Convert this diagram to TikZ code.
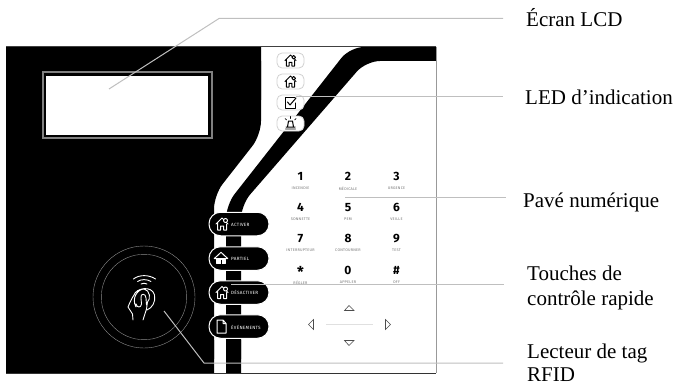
\documentclass[tikz,border=0pt]{standalone}
\usepackage{fontspec}
\setmainfont{Liberation Serif}
\newfontfamily\panelfont{Fira Sans}
\newfontfamily\smallpanelfont[LetterSpace=6]{Fira Sans}
\usetikzlibrary{calc}
\tikzset{
  leader/.style={draw=black!25,line width=1pt},
  lbl/.style={anchor=base west,inner sep=0pt,font=\fontsize{21}{24}\selectfont},
  digit/.style={font=\panelfont\bfseries\fontsize{12}{12}\selectfont,inner sep=0pt,text height=8.4pt,text depth=0pt},
  sublbl/.style={font=\smallpanelfont\fontsize{3.8}{4}\selectfont,text=black!55,inner sep=0pt},
  softkey/.style={draw=white,line width=1pt,fill=black,rounded corners=11.5pt,minimum width=60pt,minimum height=23.5pt,inner sep=0pt},
  softtxt/.style={font=\smallpanelfont\fontsize{4.6}{5}\selectfont,text=white,inner sep=0pt,anchor=west},
  ledkey/.style={draw=black!18,line width=.8pt,fill=white,rounded corners=5pt,minimum width=27pt,minimum height=15pt,inner sep=0pt},
  ico/.style={line width=1pt,line join=round,line cap=round},
  nav/.style={draw=black!70,line width=.6pt,fill=white},
  pics/house/.style={code={
    \draw[ico,#1] (-6,0) -- (0,-6) -- (1.5,-4.5)
      (-4.5,-1.5) -- (-4.5,6) -- (-1.5,6) -- (-1.5,2) -- (1.5,2) -- (1.5,6) -- (4.5,6) -- (4.5,0);
    \draw[ico,#1] (3.5,-3.5) circle (2);
    \draw[ico,#1] (6,0) -- (4.5,-1.5);
  }},
  pics/home2/.style={code={
    \draw[ico,#1,fill=#1] (-4.5,1.5) rectangle (4.5,5.5);
    \draw[ico,#1] (-7,0) -- (0,-6.5) -- (7,0) -- cycle;
    \draw[ico,black,line width=1pt] (0,2) -- (0,5.5);
  }}
}
\begin{document}
\begin{tikzpicture}[x=1pt,y=-1pt]
\useasboundingbox (0,0) rectangle (676,385);
% panel
\fill[black,rounded corners=14pt] (6,47) -- (261,47) -- (261,135) -- (214,195) -- (214,373) -- (6,373) [sharp corners] -- cycle;
\fill[black] (6,47) rectangle (30,80) (6,340) rectangle (30,373) (230,47) rectangle (261,100) (190,340) rectangle (214,373);
\fill[black,rounded corners=14pt] (436,47) -- (350,47) -- (226,205) -- (226,373) -- (241,373) -- (241,205) -- (366,61) -- (436,61);
\fill[black] (420,47) rectangle (436,61) (226,340) rectangle (241,373);
\draw[black!75,line width=1pt] (6,47) -- (436,47);
\draw[black!40,line width=1pt] (436,47) -- (436,373);
\draw[black!80,line width=1pt] (6,373) -- (436,373);
% LCD
\node[draw=black!50,line width=2pt,fill=black,minimum width=169pt,minimum height=65pt,inner sep=0pt] (lcdframe) at (127,105) {};
\node[fill=white,minimum width=162pt,minimum height=58pt,inner sep=0pt] (lcd) at (127,105.5) {};
% LED keys
\node[ledkey] (k1) at (290.5,60.5) {};
\node[ledkey] (k2) at (290.5,81.5) {};
\node[ledkey] (k3) at (290.5,102.5) {};
\node[ledkey] (k4) at (290.5,123.5) {};
\pic[scale=.92] at (k1) {house={black}};
\pic[scale=.92] at (k2) {house={black}};
\draw[ico,black] (295,98) -- (285,98) -- (285,108) -- (295,108) -- (295,103);
\draw[ico,black] (287.5,102) -- (290,105) -- (296,98);
\draw[ico,black] (286,127) -- (295,127) (287.5,127) -- (288.5,121) -- (292.5,121) -- (293.5,127);
\draw[ico,black,line width=.7pt] (290.5,118.5) -- (290.5,116.5) (286.5,120) -- (285,118.5) (294.5,120) -- (296,118.5) (285.5,129) -- (295.5,129);
% soft keys
\node[softkey] (s1) at (239,224) {};
\node[softkey] (s2) at (239,258.5) {};
\node[softkey] (s3) at (239,292.5) {};
\node[softkey] (s4) at (239,326.5) {};
\pic at (222,224) {house={white}};
\pic[scale=.95] at (221,258.5) {home2={white}};
\pic at (222,292.5) {house={white}};
\draw[ico,white] (217,320) -- (223,320) -- (226,323.5) -- (226,333) -- (217,333) -- cycle (223,320) -- (223,323.5) -- (226,323.5);
\node[softtxt] (t1) at (231,224.5) {ACTIVER};
\node[softtxt] (t2) at (231,258.5) {PARTIEL};
\node[softtxt] (t3) at (231,292.5) {DÉSACTIVER};
\node[softtxt] (t4) at (231,327) {ÉVÉNEMENTS};
% keypad
\foreach \nm/\x/\y/\d/\s in {a/300.5/176/1/INCENDIE,b/348/176/2/MÉDICALE,c/396.5/176/3/URGENCE,
  d/300.5/207/4/SONNETTE,e/348/207/5/PEM,f/396.5/207/6/VEILLE,
  g/300.5/238/7/INTERRUPTEUR,h/348/238/8/CONTOURNER,i/396.5/238/9/TEST,
  j/300.5/270/\raisebox{-3pt}{\fontsize{15}{15}\selectfont *}/RÉGLER,l/348/270/0/APPELER,m/396.5/270/\#/OFF}{
  \node[digit] (n\nm) at (\x,\y) {\d};
  \node[sublbl] (s\nm) at (\x,\y+12.5) {\s};
}
% nav
\draw[nav] (344.5,310.5) -- (349,305.5) -- (354,310.5) -- cycle;
\draw[nav] (344.5,340.5) -- (354,340.5) -- (349,345.5) -- cycle;
\draw[nav] (313.5,319.5) -- (313.5,329.5) -- (308.5,324.5) -- cycle;
\draw[nav] (385.5,319.5) -- (385.5,329.5) -- (390.5,324.5) -- cycle;
\draw[black!12,line width=.8pt] (326,324.5) -- (373,324.5);
% RFID
\coordinate (rf) at (144,297);
\draw[white,opacity=.55,line width=.4pt] (rf) circle (51) (rf) circle (42.7);
\draw[white,line width=.9pt,line cap=round] (133.5,279) .. controls (139,274.5) and (149,274.5) .. (155.5,279);
\draw[white,line width=.9pt,line cap=round] (137.5,281.5) .. controls (141,279) and (147,279) .. (151,281.5);
\draw[white,line width=.9pt,line cap=round] (141,284) .. controls (143,283) and (145,283) .. (147,284);
\draw[white,line width=.9pt,line cap=round,line join=round]
  (133,320) -- (132.5,314) -- (128,307) .. controls (130,302) and (132,298) .. (134,295)
  .. controls (136,288) and (152,285) .. (154.5,295) .. controls (156,302) and (152,308) .. (147,310)
  (136,307) .. controls (131,298) and (138,289) .. (144,289) .. controls (150,290) and (151,299) .. (147.5,302)
  (147.5,302) -- (146.5,309) -- (143,320)
  (136,304) .. controls (137,308) and (141,308) .. (141.5,304) -- (141,298) .. controls (140,293) and (146,293) .. (146,298) -- (146.5,305);
% labels
\node[lbl] (lLCD) at (526,27) {Écran LCD};
\node[lbl] (lLED) at (525,105) {LED d’indication};
\node[lbl] (lPAV) at (523,207) {Pavé numérique};
\node[lbl] (lTOU) at (527,280) {Touches de};
\node[lbl] (lCON) at (527,305) {contrôle rapide};
\node[lbl] (lLEC) at (527,358) {Lecteur de tag};
\node[lbl] (lRFI) at (527,381) {RFID};
% leaders
\coordinate (c1a) at (109,89); \coordinate (c1b) at (219,18.5); \coordinate (c1c) at (503,18.5);
\coordinate (c2a) at (296,97); \coordinate (c2c) at (503,97);
\coordinate (c3a) at (345,197); \coordinate (c3c) at (506,197);
\coordinate (c4a) at (231,284); \coordinate (c4c) at (504,284);
\coordinate (c5a) at (164,311); \coordinate (c5b) at (204,363); \coordinate (c5c) at (503,363);
\draw[leader] (c1a) -- (c1b) -- (c1c);
\draw[leader] (c2a) -- (c2c);
\draw[leader] (c3a) -- (c3c);
\draw[leader] (c4a) -- (c4c);
\draw[leader] (c5a) -- (c5b) -- (c5c);
\end{tikzpicture}
\end{document}
